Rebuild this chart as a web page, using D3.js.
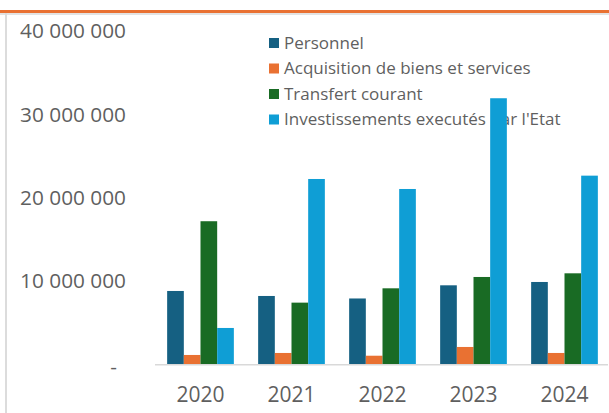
<!DOCTYPE html>
<html>
<head>
<meta charset="utf-8">
<script src="https://cdn.jsdelivr.net/npm/d3@7"></script>
<style>
  body { margin: 0; background: #fff; }
  text { font-family: "Open Sans", "Noto Sans", sans-serif; fill: #5f5f5f; }
</style>
</head>
<body>
<div id="chart"></div>
<script>
// chart data
const years = ["2020", "2021", "2022", "2023", "2024"];
const seriesNames = ["Personnel", "Acquisition de biens et services", "Transfert courant", "Investissements executés par l'Etat"];
const personnel = [8800000, 8200000, 7900000, 9480000, 9880000];
const acquisition = [1120000, 1360000, 1030000, 2080000, 1360000];
const transfert = [17170000, 7400000, 9120000, 10480000, 10920000];
const investissements = [4360000, 22240000, 21040000, 31930000, 22640000];
const yTicks = [0, 10000000, 20000000, 30000000, 40000000];
const colors = ["#156082", "#E97132", "#196B24", "#0F9ED5"];

const allSeries = [personnel, acquisition, transfert, investissements];

const width = 609, height = 413;

const svg = d3.select("#chart").append("svg")
    .attr("width", width)
    .attr("height", height);

// top border of the frame (orange line + grey)
svg.append("rect").attr("x", 0).attr("y", 13).attr("width", width).attr("height", 2).attr("fill", "#e3e3e3");
svg.append("rect").attr("x", 0).attr("y", 10).attr("width", width).attr("height", 3).attr("fill", "#E97132");
svg.append("rect").attr("x", 5).attr("y", 13).attr("width", 2).attr("height", height - 13).attr("fill", "#dcdcdc");

const x0 = d3.scaleBand()
    .domain(years)
    .range([155, 610])
    .paddingInner(0.267)
    .paddingOuter(0.1335);

const x1 = d3.scaleBand()
    .domain(d3.range(seriesNames.length))
    .range([0, x0.bandwidth()]);

const y = d3.scaleLinear()
    .domain([0, 40000000])
    .range([364.3, 31]);

// y axis labels
const fmt = v => v === 0 ? "-" : d3.format(",")(v).replace(/,/g, " ");
svg.selectAll(".ylab")
    .data(yTicks)
    .join("text")
    .attr("class", "ylab")
    .attr("x", d => d === 0 ? 117 : 126)
    .attr("y", d => y(d) + (d === 0 ? 2 : 0))
    .attr("dy", "0.35em")
    .attr("text-anchor", "end")
    .style("font-size", "20.8px")
    .text(fmt);

// legend (drawn under the bars)
const legend = svg.append("g").attr("transform", "translate(269,43)");
seriesNames.forEach((name, i) => {
    const g = legend.append("g").attr("transform", `translate(0,${i * 25.5})`);
    g.append("rect")
        .attr("x", 0).attr("y", -5)
        .attr("width", 10).attr("height", 10)
        .attr("fill", colors[i]);
    g.append("text")
        .attr("x", 15).attr("y", 0)
        .attr("dy", "0.35em")
        .style("font-size", "17px")
        .text(name);
});

// bars
const groups = svg.selectAll(".year")
    .data(years)
    .join("g")
    .attr("class", "year")
    .attr("transform", d => `translate(${x0(d)},0)`);

groups.selectAll("rect")
    .data((d, i) => allSeries.map((s, k) => ({ k, v: s[i] })))
    .join("rect")
    .attr("x", d => x1(d.k))
    .attr("y", d => y(d.v))
    .attr("width", x1.bandwidth())
    .attr("height", d => y(0) - y(d.v))
    .attr("fill", d => colors[d.k]);

// x axis line
svg.append("line")
    .attr("x1", 155).attr("x2", 608)
    .attr("y1", y(0) + 0.5).attr("y2", y(0) + 0.5)
    .attr("stroke", "#d9d9d9")
    .attr("stroke-width", 1.5);

// year labels
svg.selectAll(".xlab")
    .data(years)
    .join("text")
    .attr("class", "xlab")
    .attr("x", d => x0(d) + x0.bandwidth() / 2)
    .attr("y", 395)
    .attr("dy", "0.35em")
    .attr("text-anchor", "middle")
    .style("font-size", "21px")
    .text(d => d);
</script>
</body>
</html>
